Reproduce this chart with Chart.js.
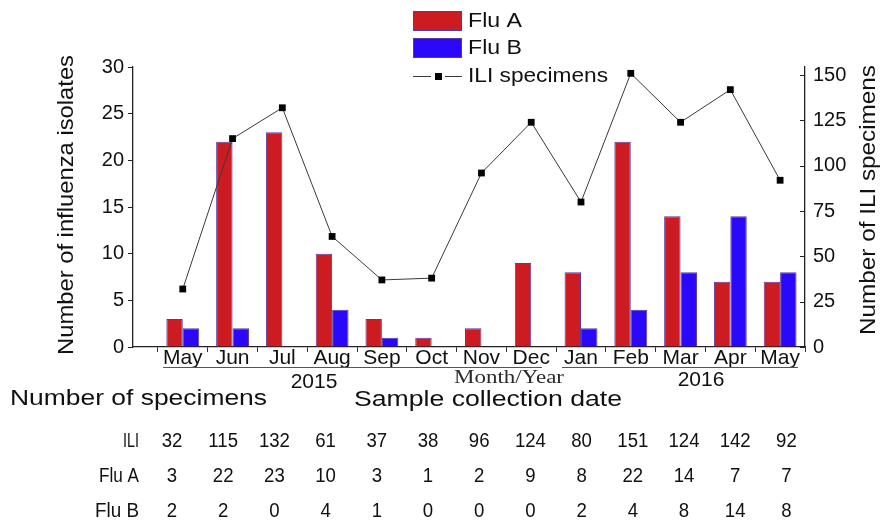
<!DOCTYPE html>
<html>
<head>
<meta charset="utf-8">
<script src="https://cdn.jsdelivr.net/npm/chart.js@4.4.1/dist/chart.umd.min.js"></script>
<style>
  html, body { margin: 0; padding: 0; background: #fff; }
  #wrap { width: 883px; height: 521px; }
</style>
</head>
<body>
<div id="wrap"><canvas id="fluChart" width="883" height="521"></canvas></div>
<script>
// monthly data, May 2015 - May 2016
const months = ["May", "Jun", "Jul", "Aug", "Sep", "Oct", "Nov", "Dec", "Jan", "Feb", "Mar", "Apr", "May"];
const fluA = [3, 22, 23, 10, 3, 1, 2, 9, 8, 22, 14, 7, 7];
const fluB = [2, 2, 0, 4, 1, 0, 0, 0, 2, 4, 8, 14, 8];
const iliSpecimens = [32, 115, 132, 61, 37, 38, 96, 124, 80, 151, 124, 142, 92];
const years = ["2015", "2016"];
const tableRows = [["ILI", iliSpecimens], ["Flu A", fluA], ["Flu B", fluB]];

const RED = "#cc1b21";
const BLUE = "#2a08fb";
const BAR_EDGE = "#5b3a9e";
const INK = "#111";
const SANS = "'Liberation Sans', Arial, sans-serif";

// text helper: optional horizontal stretch so widths match the picture
function drawText(ctx, str, x, y, size, opts) {
  opts = opts || {};
  ctx.save();
  ctx.font = (opts.font || size + "px " + SANS);
  ctx.fillStyle = opts.color || INK;
  ctx.textBaseline = opts.baseline || "alphabetic";
  ctx.textAlign = "left";
  const w = ctx.measureText(str).width;
  const sx = opts.width ? opts.width / w : (opts.sx || 1);
  ctx.translate(x, y);
  if (opts.rotate) ctx.rotate(opts.rotate);
  ctx.scale(sx, 1);
  let left = 0;
  if (opts.align === "center") left = -w / 2;
  else if (opts.align === "right") left = -w;
  ctx.fillText(str, left, 0);
  ctx.restore();
}

const extrasPlugin = {
  id: "extras",
  afterDraw(chart) {
    const ctx = chart.ctx;
    const area = chart.chartArea;

    // inward ticks on the right axis
    const y1 = chart.scales.y1;
    ctx.save();
    ctx.strokeStyle = "#222";
    ctx.lineWidth = 1;
    y1.ticks.forEach((t) => {
      const py = Math.round(y1.getPixelForValue(t.value)) + 0.5;
      ctx.beginPath();
      ctx.moveTo(area.right - 5, py);
      ctx.lineTo(area.right, py);
      ctx.stroke();
    });
    ctx.restore();

    // axis titles
    drawText(ctx, "Number of influenza isolates", 67, 205, 22,
      { rotate: -Math.PI / 2, align: "center", baseline: "middle", width: 300 });
    drawText(ctx, "Number of ILI specimens", 869, 200, 22,
      { rotate: -Math.PI / 2, align: "center", baseline: "middle", width: 270 });

    // legend
    ctx.save();
    ctx.lineWidth = 1;
    ctx.strokeStyle = BAR_EDGE;
    ctx.fillStyle = RED;
    ctx.fillRect(413, 11, 49, 20);
    ctx.strokeRect(413.5, 11.5, 48, 19);
    ctx.fillStyle = BLUE;
    ctx.fillRect(413, 38, 49, 20);
    ctx.strokeRect(413.5, 38.5, 48, 19);
    ctx.strokeStyle = "#3a3a3a";
    ctx.beginPath();
    ctx.moveTo(413, 76.5); ctx.lineTo(431, 76.5);
    ctx.moveTo(445, 76.5); ctx.lineTo(462, 76.5);
    ctx.stroke();
    ctx.fillStyle = "#000";
    ctx.fillRect(435, 73, 7, 7);
    ctx.restore();
    drawText(ctx, "Flu A", 468, 21, 20, { baseline: "middle", width: 54 });
    drawText(ctx, "Flu B", 468, 48, 20, { baseline: "middle", width: 54 });
    drawText(ctx, "ILI specimens", 468, 76, 20, { baseline: "middle", width: 140 });

    // year brackets under the month labels
    ctx.save();
    ctx.strokeStyle = "#555";
    ctx.lineWidth = 1;
    ctx.beginPath();
    ctx.moveTo(163, 367.5); ctx.lineTo(542, 367.5);
    ctx.moveTo(562, 367.5); ctx.lineTo(798, 367.5);
    ctx.stroke();
    ctx.restore();
    drawText(ctx, years[0], 314, 388, 21, { align: "center" });
    drawText(ctx, years[1], 701, 386, 21, { align: "center" });
    drawText(ctx, "Month/Year", 509, 383, 18,
      { font: "18px 'Liberation Serif', 'Times New Roman', serif", align: "center", width: 110, color: "#2a2a2a" });

    drawText(ctx, "Number of specimens", 10, 405, 22, { width: 257 });
    drawText(ctx, "Sample collection date", 354, 406, 22, { width: 268 });

    // specimen table
    const labelWidths = [16, 40, 44];
    const rowBase = [447, 482, 517];
    tableRows.forEach((row, r) => {
      drawText(ctx, row[0], 139, rowBase[r], 20, { align: "right", width: labelWidths[r] });
      row[1].forEach((v, i) => {
        drawText(ctx, String(v), 172 + 51.2 * i, rowBase[r], 20, { align: "center", sx: 0.93 });
      });
    });
  }
};

const ctx = document.getElementById("fluChart");

new Chart(ctx, {
  type: "bar",
  data: {
    datasets: [
      {
        type: "line",
        label: "ILI specimens",
        data: iliSpecimens.map((v, i) => ({ x: i, y: v })),
        yAxisID: "y1",
        borderColor: "#3a3a3a",
        borderWidth: 1,
        pointStyle: "rect",
        pointRadius: 4.8,
        pointBackgroundColor: "#000",
        pointBorderColor: "#000",
        pointBorderWidth: 0,
        tension: 0,
        order: 0,
      },
      {
        label: "Flu A",
        data: fluA.map((v, i) => ({ x: i, y: v })),
        yAxisID: "y",
        backgroundColor: RED,
        borderColor: BAR_EDGE,
        borderWidth: 1,
        order: 1,
      },
      {
        label: "Flu B",
        data: fluB.map((v, i) => ({ x: i, y: v })),
        yAxisID: "y",
        backgroundColor: BLUE,
        borderColor: BAR_EDGE,
        borderWidth: 1,
        order: 1,
      },
    ],
  },
  options: {
    responsive: false,
    animation: false,
    devicePixelRatio: 1,
    layout: { padding: { top: 67, left: 0, right: 0, bottom: 0 } },
    datasets: {
      bar: { categoryPercentage: 0.66, barPercentage: 1.0 },
    },
    plugins: {
      legend: { display: false },
      tooltip: { enabled: false },
    },
    scales: {
      x: {
        type: "linear",
        min: -1,
        max: 12.5,
        offset: false,
        afterFit: (s) => { s.height = 174; },
        ticks: {
          stepSize: 1,
          includeBounds: false,
          autoSkip: false,
          maxRotation: 0,
          minRotation: 0,
          padding: -4,
          color: INK,
          font: { family: SANS, size: 21, lineHeight: 1 },
          callback: (v) => months[v] || "",
        },
        grid: { offset: true, drawOnChartArea: false, drawTicks: true, tickLength: 5, color: "#333" },
        border: { display: true, color: "#222", width: 1.3 },
      },
      y: {
        position: "left",
        min: 0,
        max: 30,
        afterFit: (s) => { s.width = 133; },
        ticks: {
          stepSize: 2.5,
          padding: 4,
          color: INK,
          font: { family: SANS, size: 20 },
          callback: (v) => (v % 5 === 0 ? v : ""),
        },
        grid: { drawOnChartArea: false, tickLength: 5, color: "#222" },
        border: { display: true, color: "#222", width: 1.3 },
      },
      y1: {
        position: "right",
        min: 0,
        max: 154.5,
        afterFit: (s) => { s.width = 78; },
        ticks: {
          stepSize: 12.5,
          includeBounds: false,
          padding: 8,
          color: INK,
          font: { family: SANS, size: 20 },
          callback: (v) => (v % 25 === 0 ? v : ""),
        },
        grid: { drawOnChartArea: false, drawTicks: false },
        border: { display: true, color: "#222", width: 1.3 },
      },
    },
  },
  plugins: [extrasPlugin],
});
</script>
</body>
</html>
